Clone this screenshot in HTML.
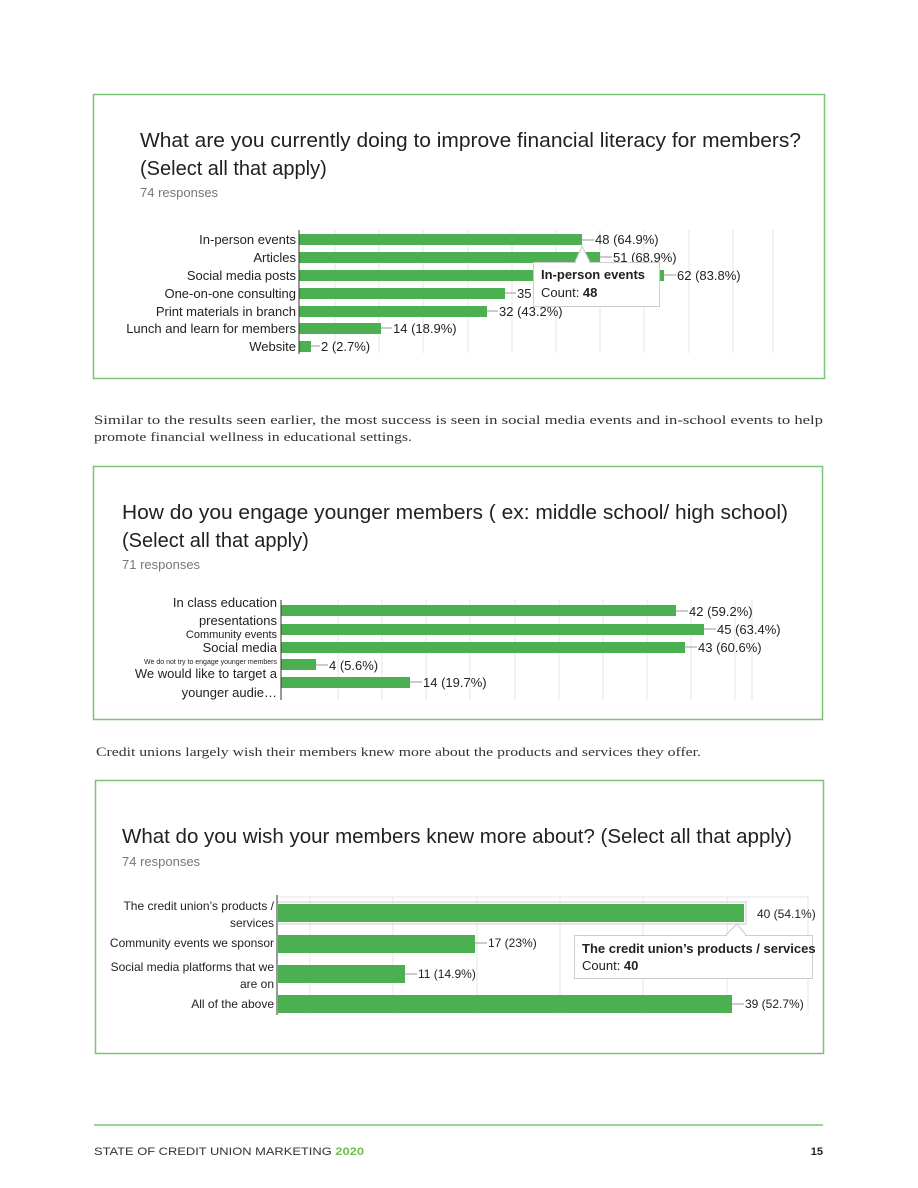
<!DOCTYPE html>
<html><head><meta charset="utf-8"><style>
body{margin:0;background:#fff;width:918px;height:1188px;overflow:hidden}
svg{display:block}
.t{font-family:"Liberation Sans",sans-serif;fill:#212121}
.l{font-family:"Liberation Sans",sans-serif;fill:#222;font-size:13px}
.s{font-family:"Liberation Serif",serif;fill:#333;font-size:13px}
</style></head><body>
<svg width="918" height="1188" xmlns="http://www.w3.org/2000/svg">
<!-- Chart 1 -->
<rect x="93.5" y="94.5" width="731" height="284" fill="#fff" stroke="#7cc576" stroke-width="1.5"/>
<text class="t" x="140" y="147" font-size="20" textLength="661" lengthAdjust="spacingAndGlyphs">What are you currently doing to improve financial literacy for members?</text>
<text class="t" x="140" y="175" font-size="20">(Select all that apply)</text>
<text x="140" y="197" font-family="Liberation Sans,sans-serif" font-size="13" fill="#777">74 responses</text>
<g stroke="#e6e6e6">
<line x1="335" y1="230" x2="335" y2="353"/><line x1="379" y1="230" x2="379" y2="353"/><line x1="423" y1="230" x2="423" y2="353"/><line x1="468" y1="230" x2="468" y2="353"/><line x1="512" y1="230" x2="512" y2="353"/><line x1="556" y1="230" x2="556" y2="353"/><line x1="600" y1="230" x2="600" y2="353"/><line x1="644" y1="230" x2="644" y2="353"/><line x1="689" y1="230" x2="689" y2="353"/><line x1="733" y1="230" x2="733" y2="353"/><line x1="773" y1="230" x2="773" y2="353"/>
</g>
<g fill="#4caf50">
<rect x="299" y="234" width="283" height="11"/><rect x="299" y="252" width="301" height="11"/><rect x="299" y="270" width="365" height="11"/><rect x="299" y="288" width="206" height="11"/><rect x="299" y="306" width="188" height="11"/><rect x="299" y="323" width="82" height="11"/><rect x="299" y="341" width="12" height="11"/>
</g>
<line x1="299" y1="230" x2="299" y2="354" stroke="#333"/>
<g class="l" text-anchor="end">
<text x="296" y="244">In-person events</text><text x="296" y="262">Articles</text><text x="296" y="280">Social media posts</text><text x="296" y="298">One-on-one consulting</text><text x="296" y="316">Print materials in branch</text><text x="296" y="333">Lunch and learn for members</text><text x="296" y="351">Website</text>
</g>
<g stroke="#999"><line x1="582" y1="240" x2="594" y2="240"/><line x1="600" y1="257" x2="612" y2="257"/><line x1="664" y1="275" x2="676" y2="275"/><line x1="505" y1="293" x2="516" y2="293"/><line x1="487" y1="311" x2="498" y2="311"/><line x1="381" y1="328" x2="392" y2="328"/><line x1="311" y1="346" x2="320" y2="346"/></g>
<g class="l">
<text x="595" y="244">48 (64.9%)</text><text x="613" y="262">51 (68.9%)</text><text x="677" y="280">62 (83.8%)</text><text x="517" y="298">35 (47.3%)</text><text x="499" y="316">32 (43.2%)</text><text x="393" y="333">14 (18.9%)</text><text x="321" y="351">2 (2.7%)</text>
</g>
<rect x="533.5" y="262.5" width="126" height="44" fill="#fff" stroke="#ccc"/>
<text class="l" x="541" y="279" font-weight="bold">In-person events</text>
<text class="l" x="541" y="297">Count: <tspan font-weight="bold">48</tspan></text>
<path d="M575 262 L582 246 L590 262" fill="#fff" stroke="#ccc"/>
<line x1="576" y1="262.5" x2="589" y2="262.5" stroke="#fff" stroke-width="1.5"/>

<text class="s" x="94" y="424" textLength="729" lengthAdjust="spacingAndGlyphs">Similar to the results seen earlier, the most success is seen in social media events and in-school events to help</text>
<text class="s" x="94" y="441" textLength="318" lengthAdjust="spacingAndGlyphs">promote financial wellness in educational settings.</text>

<!-- Chart 2 -->
<rect x="93.5" y="466.5" width="729" height="253" fill="#fff" stroke="#7cc576" stroke-width="1.5"/>
<text class="t" x="122" y="519" font-size="20" textLength="666" lengthAdjust="spacingAndGlyphs">How do you engage younger members ( ex: middle school/ high school)</text>
<text class="t" x="122" y="547" font-size="20">(Select all that apply)</text>
<text x="122" y="569" font-family="Liberation Sans,sans-serif" font-size="13" fill="#777">71 responses</text>
<g stroke="#e6e6e6">
<line x1="338" y1="600" x2="338" y2="700"/><line x1="382" y1="600" x2="382" y2="700"/><line x1="426" y1="600" x2="426" y2="700"/><line x1="470" y1="600" x2="470" y2="700"/><line x1="515" y1="600" x2="515" y2="700"/><line x1="559" y1="600" x2="559" y2="700"/><line x1="603" y1="600" x2="603" y2="700"/><line x1="647" y1="600" x2="647" y2="700"/><line x1="691" y1="600" x2="691" y2="700"/><line x1="735" y1="600" x2="735" y2="700"/><line x1="752" y1="600" x2="752" y2="700"/>
</g>
<g fill="#4caf50">
<rect x="281" y="605" width="395" height="11"/><rect x="281" y="624" width="423" height="11"/><rect x="281" y="642" width="404" height="11"/><rect x="281" y="659" width="35" height="11"/><rect x="281" y="677" width="129" height="11"/>
</g>
<line x1="281" y1="600" x2="281" y2="700" stroke="#333"/>
<g class="l" text-anchor="end">
<text x="277" y="607">In class education</text><text x="277" y="625">presentations</text>
<text x="277" y="638" font-size="11">Community events</text>
<text x="277" y="652">Social media</text>
<text x="277" y="664" font-size="7">We do not try to engage younger members</text>
<text x="277" y="678">We would like to target a</text><text x="277" y="697">younger audie…</text>
</g>
<g stroke="#999"><line x1="676" y1="611" x2="688" y2="611"/><line x1="704" y1="629" x2="716" y2="629"/><line x1="685" y1="647" x2="697" y2="647"/><line x1="316" y1="665" x2="328" y2="665"/><line x1="410" y1="682" x2="422" y2="682"/></g>
<g class="l">
<text x="689" y="616">42 (59.2%)</text><text x="717" y="634">45 (63.4%)</text><text x="698" y="652">43 (60.6%)</text><text x="329" y="670">4 (5.6%)</text><text x="423" y="687">14 (19.7%)</text>
</g>

<text class="s" x="96" y="756" textLength="605" lengthAdjust="spacingAndGlyphs">Credit unions largely wish their members knew more about the products and services they offer.</text>

<!-- Chart 3 -->
<rect x="95.5" y="780.5" width="728" height="273" fill="#fff" stroke="#7cc576" stroke-width="1.5"/>
<text class="t" x="122" y="843" font-size="20" textLength="670" lengthAdjust="spacingAndGlyphs">What do you wish your members knew more about? (Select all that apply)</text>
<text x="122" y="866" font-family="Liberation Sans,sans-serif" font-size="13" fill="#777">74 responses</text>
<g stroke="#e6e6e6">
<line x1="277" y1="897" x2="808" y2="897"/>
<line x1="310" y1="897" x2="310" y2="1014"/><line x1="393" y1="897" x2="393" y2="1014"/><line x1="477" y1="897" x2="477" y2="1014"/><line x1="560" y1="897" x2="560" y2="1014"/><line x1="643" y1="897" x2="643" y2="1014"/><line x1="727" y1="897" x2="727" y2="1014"/><line x1="808" y1="897" x2="808" y2="1014"/>
</g>
<rect x="277" y="902" width="469" height="22" fill="none" stroke="#ccc"/>
<g fill="#4caf50">
<rect x="278" y="904" width="466" height="18"/><rect x="278" y="935" width="197" height="18"/><rect x="278" y="965" width="127" height="18"/><rect x="278" y="995" width="454" height="18"/>
</g>
<line x1="277" y1="895" x2="277" y2="1015" stroke="#333"/>
<g class="l" text-anchor="end">
<text x="274" y="910" font-size="12">The credit union’s products /</text><text x="274" y="927" font-size="12">services</text>
<text x="274" y="947" font-size="12">Community events we sponsor</text>
<text x="274" y="971" font-size="12">Social media platforms that we</text><text x="274" y="988" font-size="12">are on</text>
<text x="274" y="1008" font-size="12">All of the above</text>
</g>
<g stroke="#999"><line x1="475" y1="943" x2="487" y2="943"/><line x1="405" y1="974" x2="417" y2="974"/><line x1="732" y1="1004" x2="744" y2="1004"/></g>
<g class="l">
<text x="757" y="918" font-size="12">40 (54.1%)</text><text x="488" y="947" font-size="12">17 (23%)</text><text x="418" y="978" font-size="12">11 (14.9%)</text><text x="745" y="1008" font-size="12">39 (52.7%)</text>
</g>
<rect x="574.5" y="935.5" width="238" height="43" fill="#fff" stroke="#ccc"/>
<path d="M726 935 L737 924 L746 935" fill="#fff" stroke="#ccc"/>
<line x1="727" y1="935.5" x2="745" y2="935.5" stroke="#fff" stroke-width="1.5"/>
<text class="l" x="582" y="953" font-size="12" font-weight="bold">The credit union’s products / services</text>
<text class="l" x="582" y="970" font-size="12">Count: <tspan font-weight="bold">40</tspan></text>

<!-- Footer -->
<line x1="94" y1="1125" x2="823" y2="1125" stroke="#7cc576" stroke-width="1.5"/>
<text x="94" y="1155" font-family="Liberation Sans,sans-serif" font-size="11" fill="#333" textLength="270" lengthAdjust="spacingAndGlyphs">STATE OF CREDIT UNION MARKETING <tspan fill="#6cbf4c" font-weight="bold">2020</tspan></text>
<text x="823" y="1155" text-anchor="end" font-family="Liberation Sans,sans-serif" font-size="11" font-weight="bold" fill="#222">15</text>
</svg>
</body></html>
